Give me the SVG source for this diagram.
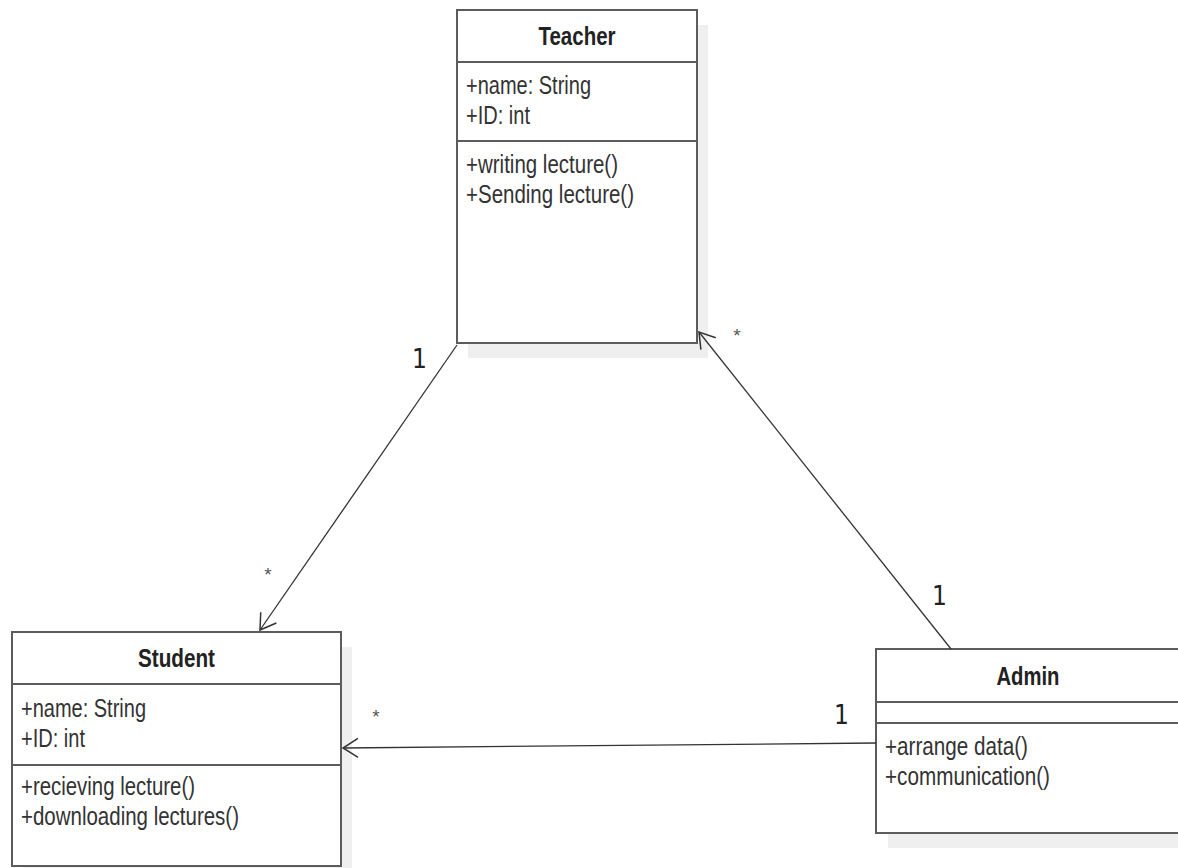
<svg xmlns="http://www.w3.org/2000/svg" width="1178" height="868" viewBox="0 0 1178 868">
<style>
.shadow{fill:#efefef;stroke:none}
.box{fill:#fff;stroke:#5c5c5c;stroke-width:2}
.div{stroke:#5c5c5c;stroke-width:2}
.title{font-family:"Liberation Sans",Arial,sans-serif;font-weight:bold;font-size:25px;fill:#222;text-anchor:middle}
.txt{font-family:"Liberation Sans",Arial,sans-serif;font-size:25px;fill:#333}
.mult{font-family:"DejaVu Sans",sans-serif;font-stretch:condensed;font-size:26px;fill:#222}
.star{font-family:"Liberation Sans",Arial,sans-serif;font-size:19px;fill:#555;text-anchor:middle}
.conn{stroke:#333;stroke-width:1.3;fill:none}
</style>
<defs>
<marker id="open" markerWidth="24" markerHeight="24" refX="0" refY="0" viewBox="-20 -12 24 24" orient="auto" markerUnits="userSpaceOnUse">
<path d="M -15 -9.5 L 0 0 L -15 9.5" fill="none" stroke="#333" stroke-width="1.5"/>
</marker>
</defs>
<rect width="1178" height="868" fill="#fff"/>

<g id="teacher">
<rect class="shadow" x="468" y="25" width="240" height="333"/>
<rect class="box" x="457" y="10" width="240" height="333"/>
<line class="div" x1="457" y1="62" x2="697" y2="62"/>
<line class="div" x1="457" y1="141" x2="697" y2="141"/>
<text class="title" x="577" y="45" textLength="77" lengthAdjust="spacingAndGlyphs">Teacher</text>
<text class="txt" x="466" y="94" textLength="125" lengthAdjust="spacingAndGlyphs">+name: String</text>
<text class="txt" x="466" y="124" textLength="64" lengthAdjust="spacingAndGlyphs">+ID: int</text>
<text class="txt" x="466" y="173" textLength="152" lengthAdjust="spacingAndGlyphs">+writing lecture()</text>
<text class="txt" x="466" y="203" textLength="168" lengthAdjust="spacingAndGlyphs">+Sending lecture()</text>
</g>

<g id="student">
<rect class="shadow" x="23" y="647" width="329" height="240"/>
<rect class="box" x="12" y="632" width="329" height="234"/>
<line class="div" x1="12" y1="684" x2="341" y2="684"/>
<line class="div" x1="12" y1="765" x2="341" y2="765"/>
<text class="title" x="176.5" y="667" textLength="77" lengthAdjust="spacingAndGlyphs">Student</text>
<text class="txt" x="21" y="717" textLength="125" lengthAdjust="spacingAndGlyphs">+name: String</text>
<text class="txt" x="21" y="747" textLength="64" lengthAdjust="spacingAndGlyphs">+ID: int</text>
<text class="txt" x="21" y="795" textLength="174" lengthAdjust="spacingAndGlyphs">+recieving lecture()</text>
<text class="txt" x="21" y="825" textLength="218" lengthAdjust="spacingAndGlyphs">+downloading lectures()</text>
</g>

<g id="admin">
<rect class="shadow" x="888" y="664" width="304" height="184"/>
<rect class="box" x="876" y="649" width="304" height="184"/>
<line class="div" x1="876" y1="702" x2="1180" y2="702"/>
<line class="div" x1="876" y1="723" x2="1180" y2="723"/>
<text class="title" x="1028" y="685" textLength="63" lengthAdjust="spacingAndGlyphs">Admin</text>
<text class="txt" x="885" y="755" textLength="143" lengthAdjust="spacingAndGlyphs">+arrange data()</text>
<text class="txt" x="885" y="785" textLength="165" lengthAdjust="spacingAndGlyphs">+communication()</text>
</g>

<g id="connectors">
<line class="conn" x1="457" y1="345" x2="260" y2="630" marker-end="url(#open)"/>
<line class="conn" x1="951" y1="649" x2="699" y2="332" marker-end="url(#open)"/>
<line class="conn" x1="876" y1="743" x2="343" y2="748" marker-end="url(#open)"/>
<text class="mult" x="412" y="368">1</text>
<text class="star" x="268" y="581">*</text>
<text class="star" x="737" y="342">*</text>
<text class="mult" x="932" y="605">1</text>
<text class="mult" x="834" y="724">1</text>
<text class="star" x="376" y="723">*</text>
</g>
</svg>
